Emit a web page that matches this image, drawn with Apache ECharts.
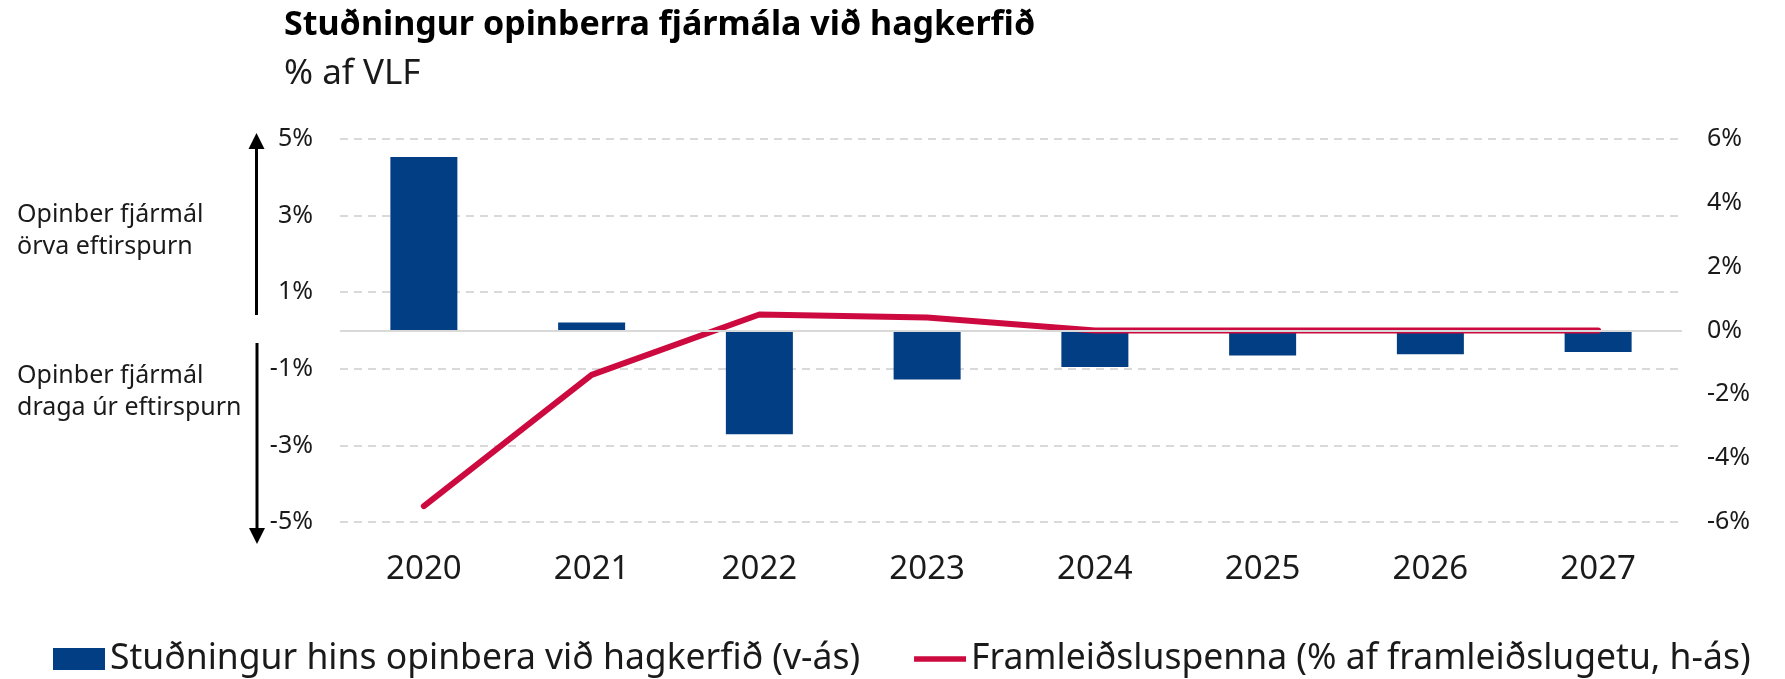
<!DOCTYPE html>
<html>
<head>
<meta charset="utf-8">
<title>Stuðningur opinberra fjármála við hagkerfið</title>
<script src="https://cdn.jsdelivr.net/npm/echarts@6/dist/echarts.min.js"></script>
<style>
  html, body { margin: 0; padding: 0; background: #fff; }
  #chart { width: 1785px; height: 679px; }
</style>
</head>
<body>
<div id="chart"></div>
<script>
const years = ['2020', '2021', '2022', '2023', '2024', '2025', '2026', '2027']
// Stuðningur hins opinbera (v-ás, % af VLF)
const studningur = [4.53, 0.21, -2.71, -1.28, -0.95, -0.65, -0.62, -0.56]
// Framleiðsluspenna (h-ás, % af framleiðslugetu)
const spenna = [-5.5, -1.39, 0.5, 0.41, 0, 0, 0, 0]
const leftTicks = { min: -5, max: 5, interval: 2 }
const rightTicks = { min: -6, max: 6, interval: 2 }

const FONT = 'Noto Sans'
const barColor = '#023e84'
const lineColor = '#cc0a3f'
const barName = 'Stuðningur hins opinbera við hagkerfið (v-ás)'
const lineName = 'Framleiðsluspenna (% af framleiðslugetu, h-ás)'

const chart = echarts.init(document.getElementById('chart'))
const option = {
  textStyle: { fontFamily: FONT, color: '#1a1a1a' },
  title: [
    {
      text: 'Stuðningur opinberra fjármála við hagkerfið',
      left: 279,
      top: 3,
      textStyle: { fontFamily: FONT, fontSize: 34, fontWeight: 'bold', color: '#000' },
    },
    {
      text: '% af VLF',
      left: 279,
      top: 52,
      textStyle: { fontFamily: FONT, fontSize: 35, fontWeight: 'normal', color: '#1a1a1a' },
    },
  ],
  grid: { left: 340, right: 103, top: 139, bottom: 157 },
  legend: {
    left: 53,
    top: 641,
    padding: 0,
    itemWidth: 52,
    itemHeight: 22,
    itemGap: 54,
    textStyle: { fontFamily: FONT, fontSize: 35.5, color: '#1a1a1a' },
    data: [
      { name: barName, icon: 'rect' },
      { name: lineName, icon: 'path://M0,0 L55,0 L55,6 L0,6 Z' },
    ],
  },
  xAxis: {
    type: 'category',
    data: years,
    axisLine: { show: false },
    axisTick: { show: false },
    axisLabel: { fontSize: 33, color: '#1a1a1a', margin: 31 },
  },
  yAxis: [
    {
      type: 'value',
      position: 'left',
      min: leftTicks.min,
      max: leftTicks.max,
      interval: leftTicks.interval,
      axisLine: { show: false },
      axisTick: { show: false },
      axisLabel: { fontSize: 25, color: '#1a1a1a', margin: 27, formatter: '{value}%' },
      splitLine: { lineStyle: { color: '#d9d9d9', width: 2, type: [8, 6] } },
    },
    {
      type: 'value',
      position: 'right',
      min: rightTicks.min,
      max: rightTicks.max,
      interval: rightTicks.interval,
      axisLine: { show: false },
      axisTick: { show: false },
      axisLabel: { fontSize: 25, color: '#1a1a1a', margin: 25, formatter: '{value}%' },
      splitLine: { show: false },
    },
  ],
  series: [
    {
      name: barName,
      type: 'bar',
      yAxisIndex: 0,
      barWidth: 67,
      data: studningur,
      itemStyle: { color: barColor },
      markLine: {
        silent: true,
        symbol: 'none',
        label: { show: false },
        lineStyle: { color: '#d9d9d9', width: 2, type: 'solid' },
        data: [{ yAxis: 0 }],
      },
    },
    {
      name: lineName,
      type: 'line',
      yAxisIndex: 1,
      data: spenna,
      symbol: 'none',
      lineStyle: { color: lineColor, width: 6, cap: 'round', join: 'round' },
      itemStyle: { color: lineColor },
      z: 3,
    },
  ],
  graphic: [
    {
      type: 'text',
      left: 17,
      top: 199,
      style: { text: 'Opinber fjármál\nörva eftirspurn', font: '25px "Noto Sans"', fill: '#1a1a1a', lineHeight: 32 },
    },
    {
      type: 'text',
      left: 17,
      top: 360,
      style: { text: 'Opinber fjármál\ndraga úr eftirspurn', font: '25px "Noto Sans"', fill: '#1a1a1a', lineHeight: 32 },
    },
    { type: 'line', shape: { x1: 256.5, y1: 315, x2: 256.5, y2: 145 }, style: { stroke: '#000', lineWidth: 3 } },
    { type: 'polygon', shape: { points: [[256.5, 133], [248.5, 149], [264.5, 149]] }, style: { fill: '#000' } },
    { type: 'line', shape: { x1: 257, y1: 343, x2: 257, y2: 532 }, style: { stroke: '#000', lineWidth: 3 } },
    { type: 'polygon', shape: { points: [[257, 544], [249, 528], [265, 528]] }, style: { fill: '#000' } },
  ],
}
option && chart.setOption(option)
</script>
</body>
</html>
